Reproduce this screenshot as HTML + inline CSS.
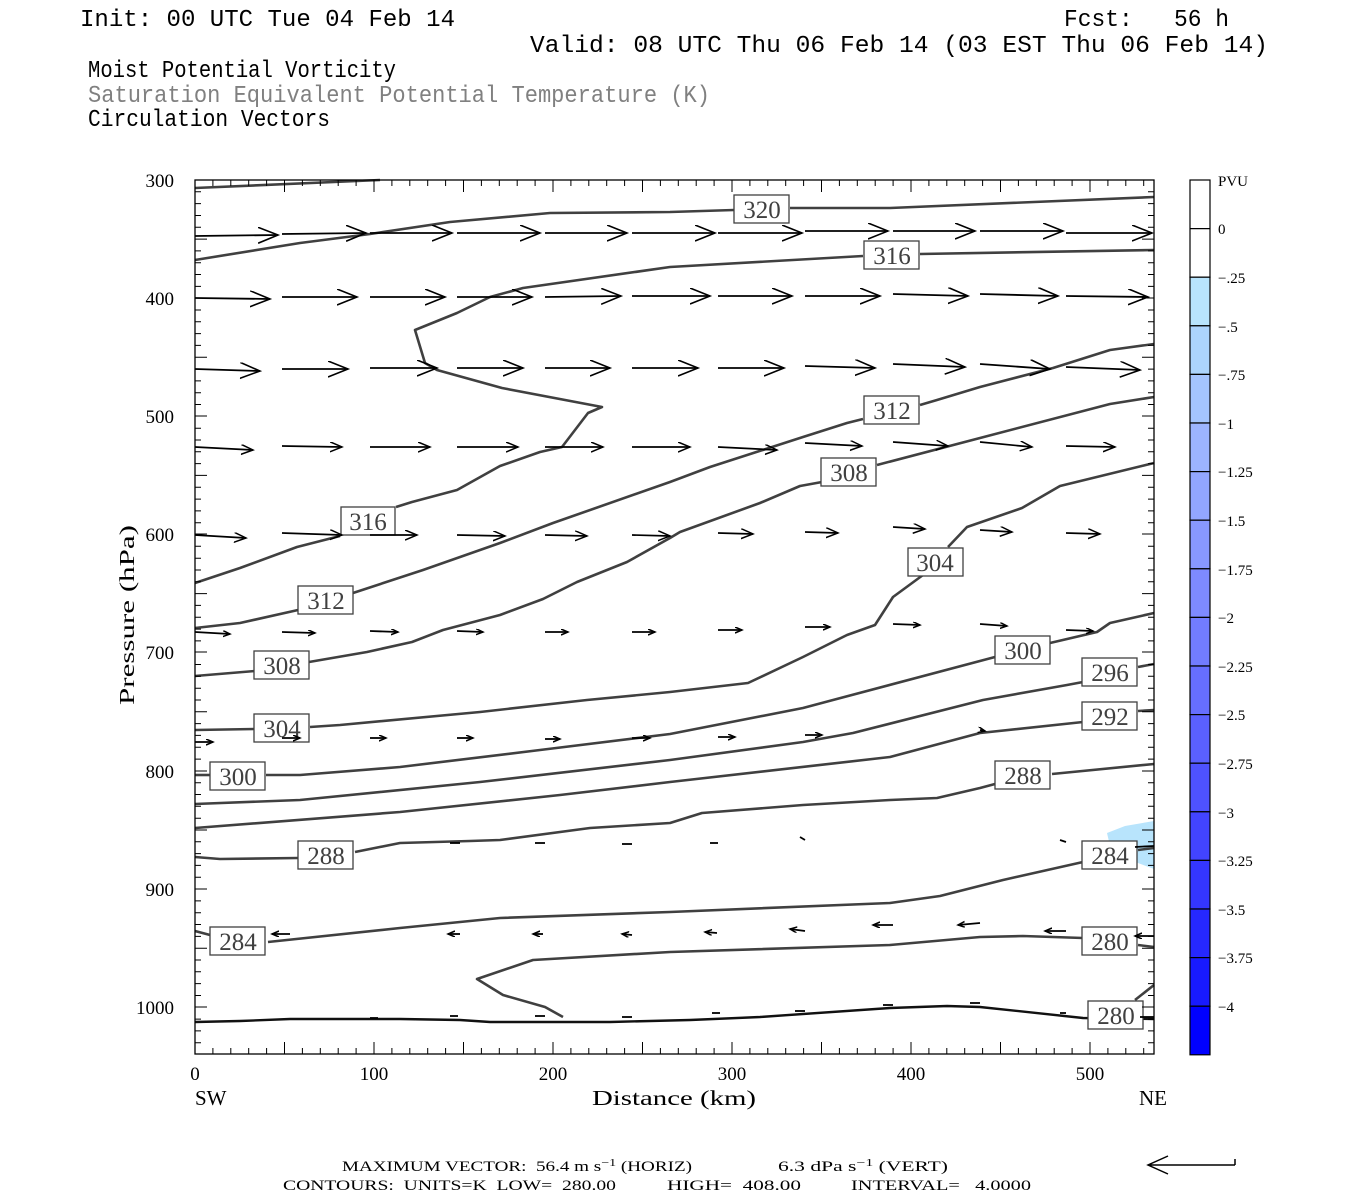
<!DOCTYPE html>
<html><head><meta charset="utf-8"><style>
html,body{margin:0;padding:0;background:#fff;}
svg{display:block;}
text{white-space:pre;}
</style></head><body>
<svg width="1350" height="1200" viewBox="0 0 1350 1200" xmlns="http://www.w3.org/2000/svg" xml:space="preserve">
<defs>
<marker id="hb" markerUnits="userSpaceOnUse" markerWidth="24" markerHeight="20" refX="20" refY="8" orient="auto"><path d="M0,0 L20,8 L0,16" fill="none" stroke="#000" stroke-width="1.6"/></marker>
<marker id="hm" markerUnits="userSpaceOnUse" markerWidth="16" markerHeight="12" refX="12" refY="5" orient="auto"><path d="M0,0 L12,5 L0,10" fill="none" stroke="#000" stroke-width="1.5"/></marker>
<marker id="hs" markerUnits="userSpaceOnUse" markerWidth="10" markerHeight="8" refX="7" refY="3" orient="auto"><path d="M0,0 L7,3 L0,6" fill="none" stroke="#000" stroke-width="1.5"/></marker>
</defs>
<rect width="1350" height="1200" fill="#fff"/>

<g font-family="Liberation Mono, monospace" font-size="24" fill="#000">
<text x="80" y="26" textLength="375" lengthAdjust="spacingAndGlyphs">Init: 00 UTC Tue 04 Feb 14</text>
<text x="1064" y="26" textLength="165" lengthAdjust="spacingAndGlyphs">Fcst:   56 h</text>
<text x="530" y="52" textLength="738" lengthAdjust="spacingAndGlyphs">Valid: 08 UTC Thu 06 Feb 14 (03 EST Thu 06 Feb 14)</text>
<text x="88" y="77" textLength="308" lengthAdjust="spacingAndGlyphs">Moist Potential Vorticity</text>
<text x="88" y="102" fill="#808080" textLength="622" lengthAdjust="spacingAndGlyphs">Saturation Equivalent Potential Temperature (K)</text>
<text x="88" y="126" textLength="242" lengthAdjust="spacingAndGlyphs">Circulation Vectors</text>
</g>

<polygon points="1107,833 1125,826 1154,821 1154,869 1138,863 1110,846" fill="#b8e4fc"/>

<g fill="none" stroke="#404040" stroke-width="2.6" stroke-linejoin="round">
<polyline points="195,188 380,180"/>
<polyline points="195,260 300,243 370,234 450,222 550,213 670,212 734,210"/>
<polyline points="790,208 890,208 1154,197"/>
<polyline points="1154,250 920,254"/>
<polyline points="863,256 670,267 523,288 490,297 457,313 415,330 425,363 437,370 502,388 602,407 588,413 562,447 540,452 500,466 457,490 412,502 396,507"/>
<polyline points="340,536 297,547 240,568 195,583"/>
<polyline points="195,628 240,623 298,610"/>
<polyline points="353,593 423,570 500,543 553,523 670,482 710,467 803,437 847,423 863,419"/>
<polyline points="920,405 937,400 980,387 1053,368 1110,350 1154,344"/>
<polyline points="195,676 255,671"/>
<polyline points="309,662 367,652 412,642 443,630 500,615 543,599 577,582 627,562 670,538 680,532 760,503 800,486 822,482"/>
<polyline points="877,465 980,438 1110,404 1154,397"/>
<polyline points="195,730 255,729"/>
<polyline points="310,727 340,725 480,712 587,700 670,692 748,683 803,657 847,635 875,625 893,597 923,575"/>
<polyline points="948,547 967,527 1022,508 1060,486 1154,463"/>
<polyline points="195,775 211,775"/>
<polyline points="266,775 300,775 400,767 540,750 670,734 803,708 833,700 995,657"/>
<polyline points="1050,643 1097,632 1110,623 1154,613"/>
<polyline points="195,804 300,800 480,782 670,760 803,742 853,733 983,700 1067,685 1083,682"/>
<polyline points="1138,667 1154,664"/>
<polyline points="195,828 400,812 560,795 670,782 890,757 980,733 1083,722"/>
<polyline points="1138,711 1154,710"/>
<polyline points="195,857 220,859 298,858"/>
<polyline points="355,852 400,843 470,841 500,840 590,828 670,823 702,813 803,805 890,800 937,798 980,788 995,784"/>
<polyline points="1052,774 1154,764"/>
<polyline points="195,931 210,935"/>
<polyline points="268,942 400,928 500,918 670,912 890,903 940,896 1003,880 1083,862"/>
<polyline points="1138,850 1154,848"/>
<polyline points="563,1017 545,1007 503,995 477,979 533,960 670,952 890,945 980,937 1023,936 1083,938"/>
<polyline points="1138,945 1154,947"/>
<polyline points="1135,1000 1154,985"/>
</g>
<polyline fill="none" stroke="#111" stroke-width="2.4" points="195,1022 240,1021 290,1019 400,1019 460,1020 490,1022 610,1022 690,1020 760,1017 890,1008 947,1006 980,1007 1083,1018 1154,1019"/>

<g font-family="Liberation Serif, serif" font-size="25" fill="#404040" stroke="none" text-anchor="middle">
<g fill="#fff" stroke="#404040" stroke-width="1.3">
<rect x="734" y="195" width="55" height="28"/>
<rect x="341" y="507" width="54" height="28"/>
<rect x="864" y="241" width="55" height="28"/>
<rect x="298" y="586" width="55" height="28"/>
<rect x="864" y="396" width="55" height="28"/>
<rect x="254" y="651" width="55" height="28"/>
<rect x="821" y="458" width="55" height="28"/>
<rect x="254" y="714" width="55" height="28"/>
<rect x="908" y="548" width="55" height="28"/>
<rect x="210" y="762" width="55" height="28"/>
<rect x="995" y="636" width="55" height="28"/>
<rect x="1082" y="658" width="55" height="28"/>
<rect x="1082" y="702" width="55" height="28"/>
<rect x="995" y="761" width="55" height="28"/>
<rect x="298" y="841" width="55" height="28"/>
<rect x="210" y="927" width="55" height="28"/>
<rect x="1082" y="841" width="55" height="28"/>
<rect x="1082" y="927" width="55" height="28"/>
<rect x="1088" y="1001" width="55" height="28"/>
</g>
<text x="762" y="218">320</text>
<text x="368" y="530">316</text>
<text x="892" y="264">316</text>
<text x="326" y="609">312</text>
<text x="892" y="419">312</text>
<text x="282" y="674">308</text>
<text x="849" y="481">308</text>
<text x="282" y="737">304</text>
<text x="935" y="571">304</text>
<text x="238" y="785">300</text>
<text x="1023" y="659">300</text>
<text x="1110" y="681">296</text>
<text x="1110" y="725">292</text>
<text x="1023" y="784">288</text>
<text x="326" y="864">288</text>
<text x="238" y="950">284</text>
<text x="1110" y="864">284</text>
<text x="1110" y="950">280</text>
<text x="1116" y="1024">280</text>
</g>

<g stroke="#000" stroke-width="1.8" fill="none">
<g marker-end="url(#hb)">
<line x1="195" y1="236" x2="278" y2="235"/><line x1="282" y1="234" x2="366" y2="233"/><line x1="370" y1="233" x2="452" y2="233"/><line x1="457" y1="233" x2="540" y2="233"/><line x1="545" y1="233" x2="627" y2="233"/><line x1="632" y1="233" x2="715" y2="233"/><line x1="718" y1="233" x2="802" y2="233"/><line x1="805" y1="231" x2="888" y2="231"/><line x1="893" y1="231" x2="975" y2="231"/><line x1="980" y1="231" x2="1063" y2="231"/><line x1="1066" y1="233" x2="1152" y2="233"/>
<line x1="195" y1="298" x2="270" y2="299"/><line x1="282" y1="297" x2="357" y2="297"/><line x1="370" y1="297" x2="445" y2="297"/><line x1="457" y1="297" x2="532" y2="297"/><line x1="545" y1="297" x2="621" y2="296"/><line x1="632" y1="296" x2="710" y2="296"/><line x1="718" y1="296" x2="792" y2="296"/><line x1="805" y1="296" x2="880" y2="296"/><line x1="893" y1="294" x2="968" y2="296"/><line x1="980" y1="294" x2="1058" y2="296"/><line x1="1066" y1="296" x2="1148" y2="297"/>
<line x1="195" y1="369" x2="260" y2="371"/><line x1="282" y1="369" x2="348" y2="369"/><line x1="370" y1="368" x2="437" y2="368"/><line x1="457" y1="368" x2="523" y2="368"/><line x1="545" y1="368" x2="610" y2="368"/><line x1="632" y1="368" x2="698" y2="368"/><line x1="718" y1="368" x2="784" y2="368"/><line x1="805" y1="366" x2="875" y2="368"/><line x1="893" y1="364" x2="965" y2="367"/><line x1="980" y1="364" x2="1050" y2="369"/><line x1="1066" y1="367" x2="1140" y2="370"/>
</g>
<g marker-end="url(#hm)" stroke-width="1.7">
<line x1="195" y1="447" x2="253" y2="450"/><line x1="282" y1="446" x2="342" y2="447"/><line x1="370" y1="447" x2="430" y2="447"/><line x1="457" y1="447" x2="518" y2="447"/><line x1="545" y1="447" x2="603" y2="447"/><line x1="632" y1="447" x2="690" y2="447"/><line x1="718" y1="447" x2="777" y2="450"/><line x1="805" y1="443" x2="862" y2="446"/><line x1="893" y1="442" x2="948" y2="446"/><line x1="980" y1="442" x2="1032" y2="447"/><line x1="1066" y1="446" x2="1115" y2="447"/>
<line x1="195" y1="535" x2="246" y2="538"/><line x1="282" y1="533" x2="342" y2="535"/><line x1="370" y1="535" x2="417" y2="535"/><line x1="457" y1="535" x2="505" y2="536"/><line x1="545" y1="535" x2="587" y2="536"/><line x1="632" y1="535" x2="670" y2="536"/><line x1="718" y1="533" x2="753" y2="534"/><line x1="805" y1="532" x2="838" y2="533"/><line x1="893" y1="527" x2="925" y2="529"/><line x1="980" y1="530" x2="1012" y2="532"/><line x1="1066" y1="533" x2="1100" y2="534"/>
</g>
<g marker-end="url(#hs)" stroke-width="1.8">
<line x1="195" y1="632" x2="230" y2="634"/><line x1="282" y1="632" x2="315" y2="633"/><line x1="370" y1="631" x2="398" y2="632"/><line x1="457" y1="631" x2="483" y2="632"/><line x1="545" y1="632" x2="568" y2="632"/><line x1="632" y1="632" x2="655" y2="632"/><line x1="718" y1="630" x2="742" y2="630"/><line x1="805" y1="627" x2="830" y2="627"/><line x1="893" y1="624" x2="920" y2="625"/><line x1="980" y1="624" x2="1007" y2="626"/><line x1="1066" y1="630" x2="1093" y2="631"/>
<line x1="195" y1="742" x2="213" y2="742"/><line x1="282" y1="738" x2="300" y2="738"/><line x1="370" y1="738" x2="386" y2="738"/><line x1="457" y1="738" x2="473" y2="738"/><line x1="545" y1="739" x2="560" y2="739"/><line x1="632" y1="738" x2="650" y2="738"/><line x1="718" y1="737" x2="735" y2="737"/><line x1="805" y1="735" x2="822" y2="735"/><line x1="980" y1="730" x2="985" y2="731"/>
<line x1="290" y1="934" x2="272" y2="934"/><line x1="460" y1="934" x2="448" y2="934"/><line x1="543" y1="934" x2="533" y2="934"/><line x1="632" y1="935" x2="622" y2="934"/><line x1="717" y1="933" x2="705" y2="932"/><line x1="805" y1="931" x2="790" y2="929"/><line x1="893" y1="925" x2="873" y2="925"/><line x1="980" y1="923" x2="958" y2="925"/><line x1="1066" y1="931" x2="1045" y2="931"/><line x1="1154" y1="936" x2="1135" y2="936"/>
</g>
<g stroke-width="1.8">
<line x1="535" y1="843" x2="545" y2="843"/><line x1="622" y1="844" x2="632" y2="844"/><line x1="710" y1="843" x2="718" y2="843"/><line x1="450" y1="843" x2="460" y2="843"/><line x1="800" y1="837" x2="805" y2="840"/><line x1="1060" y1="840" x2="1066" y2="842"/><line x1="1135" y1="847" x2="1154" y2="846"/>
<line x1="370" y1="1018" x2="378" y2="1018"/><line x1="450" y1="1016" x2="458" y2="1016"/><line x1="535" y1="1016" x2="545" y2="1016"/><line x1="622" y1="1017" x2="632" y2="1017"/><line x1="712" y1="1013" x2="720" y2="1013"/><line x1="795" y1="1011" x2="805" y2="1011"/><line x1="883" y1="1005" x2="893" y2="1005"/><line x1="970" y1="1003" x2="980" y2="1003"/><line x1="1060" y1="1013" x2="1066" y2="1013"/><line x1="1140" y1="1017" x2="1154" y2="1017"/>
</g>
</g>

<rect x="195" y="180" width="959" height="874" fill="none" stroke="#000" stroke-width="1.3"/>
<g stroke="#000" stroke-width="1">
<path d="M195,191.8h6M195,203.6h6M195,215.5h6M195,227.3h6M195,239.1h12M195,250.9h6M195,262.7h6M195,274.5h6M195,286.4h6M195,310h6M195,321.8h6M195,333.6h6M195,345.4h6M195,357.3h12M195,369.1h6M195,380.9h6M195,392.7h6M195,404.5h6M195,428.2h6M195,440h6M195,451.8h6M195,463.6h6M195,475.4h12M195,487.3h6M195,499.1h6M195,510.9h6M195,522.7h6M195,546.3h6M195,558.2h6M195,570h6M195,581.8h6M195,593.6h12M195,605.4h6M195,617.3h6M195,629.1h6M195,640.9h6M195,664.5h6M195,676.3h6M195,688.2h6M195,700h6M195,711.8h12M195,723.6h6M195,735.4h6M195,747.3h6M195,759.1h6M195,782.7h6M195,794.5h6M195,806.3h6M195,818.2h6M195,830h12M195,841.8h6M195,853.6h6M195,865.4h6M195,877.3h6M195,900.9h6M195,912.7h6M195,924.5h6M195,936.4h6M195,948.2h12M195,960h6M195,971.8h6M195,983.6h6M195,995.5h6M195,1019.1h6M195,1030.9h6M195,1042.7h6M195,298h12M195,416h12M195,534h12M195,652h12M195,771h12M195,889h12M195,1007h12"/>
<path d="M1154,191.8h-6M1154,203.6h-6M1154,215.5h-6M1154,227.3h-6M1154,239.1h-12M1154,250.9h-6M1154,262.7h-6M1154,274.5h-6M1154,286.4h-6M1154,310h-6M1154,321.8h-6M1154,333.6h-6M1154,345.4h-6M1154,357.3h-12M1154,369.1h-6M1154,380.9h-6M1154,392.7h-6M1154,404.5h-6M1154,428.2h-6M1154,440h-6M1154,451.8h-6M1154,463.6h-6M1154,475.4h-12M1154,487.3h-6M1154,499.1h-6M1154,510.9h-6M1154,522.7h-6M1154,546.3h-6M1154,558.2h-6M1154,570h-6M1154,581.8h-6M1154,593.6h-12M1154,605.4h-6M1154,617.3h-6M1154,629.1h-6M1154,640.9h-6M1154,664.5h-6M1154,676.3h-6M1154,688.2h-6M1154,700h-6M1154,711.8h-12M1154,723.6h-6M1154,735.4h-6M1154,747.3h-6M1154,759.1h-6M1154,782.7h-6M1154,794.5h-6M1154,806.3h-6M1154,818.2h-6M1154,830h-12M1154,841.8h-6M1154,853.6h-6M1154,865.4h-6M1154,877.3h-6M1154,900.9h-6M1154,912.7h-6M1154,924.5h-6M1154,936.4h-6M1154,948.2h-12M1154,960h-6M1154,971.8h-6M1154,983.6h-6M1154,995.5h-6M1154,1019.1h-6M1154,1030.9h-6M1154,1042.7h-6M1154,298h-12M1154,416h-12M1154,534h-12M1154,652h-12M1154,771h-12M1154,889h-12M1154,1007h-12"/>
<path d="M212.9,180v6M230.8,180v6M248.7,180v6M266.6,180v6M284.5,180v12M302.4,180v6M320.3,180v6M338.2,180v6M356.1,180v6M374,180v12M391.9,180v6M409.8,180v6M427.7,180v6M445.6,180v6M463.5,180v12M481.4,180v6M499.3,180v6M517.2,180v6M535.1,180v6M553,180v12M570.9,180v6M588.8,180v6M606.7,180v6M624.6,180v6M642.5,180v12M660.4,180v6M678.3,180v6M696.2,180v6M714.1,180v6M732,180v12M749.9,180v6M767.8,180v6M785.7,180v6M803.6,180v6M821.5,180v12M839.4,180v6M857.3,180v6M875.2,180v6M893.1,180v6M911,180v12M928.9,180v6M946.8,180v6M964.7,180v6M982.6,180v6M1000.5,180v12M1018.4,180v6M1036.3,180v6M1054.2,180v6M1072.1,180v6M1090,180v12M1107.9,180v6M1125.8,180v6M1143.7,180v6"/>
<path d="M212.9,1054v-6M230.8,1054v-6M248.7,1054v-6M266.6,1054v-6M284.5,1054v-12M302.4,1054v-6M320.3,1054v-6M338.2,1054v-6M356.1,1054v-6M374,1054v-12M391.9,1054v-6M409.8,1054v-6M427.7,1054v-6M445.6,1054v-6M463.5,1054v-12M481.4,1054v-6M499.3,1054v-6M517.2,1054v-6M535.1,1054v-6M553,1054v-12M570.9,1054v-6M588.8,1054v-6M606.7,1054v-6M624.6,1054v-6M642.5,1054v-12M660.4,1054v-6M678.3,1054v-6M696.2,1054v-6M714.1,1054v-6M732,1054v-12M749.9,1054v-6M767.8,1054v-6M785.7,1054v-6M803.6,1054v-6M821.5,1054v-12M839.4,1054v-6M857.3,1054v-6M875.2,1054v-6M893.1,1054v-6M911,1054v-12M928.9,1054v-6M946.8,1054v-6M964.7,1054v-6M982.6,1054v-6M1000.5,1054v-12M1018.4,1054v-6M1036.3,1054v-6M1054.2,1054v-6M1072.1,1054v-6M1090,1054v-12M1107.9,1054v-6M1125.8,1054v-6M1143.7,1054v-6"/>
</g>

<g font-family="Liberation Serif, serif" font-size="19" fill="#000">
<g text-anchor="end">
<text x="174" y="187">300</text><text x="174" y="305">400</text><text x="174" y="423">500</text><text x="174" y="541">600</text><text x="174" y="659">700</text><text x="174" y="778">800</text><text x="174" y="896">900</text><text x="174" y="1014">1000</text>
</g>
<g text-anchor="middle">
<text x="195" y="1080">0</text><text x="374" y="1080">100</text><text x="553" y="1080">200</text><text x="732" y="1080">300</text><text x="911" y="1080">400</text><text x="1090" y="1080">500</text>
</g>
<text x="195" y="1105" font-size="21">SW</text>
<text x="674" y="1105" font-size="21" text-anchor="middle" textLength="164" lengthAdjust="spacingAndGlyphs">Distance (km)</text>
<text x="1139" y="1105" font-size="21">NE</text>
<text transform="translate(134,615) rotate(-90)" font-size="21" text-anchor="middle" textLength="180" lengthAdjust="spacingAndGlyphs">Pressure (hPa)</text>
</g>

<g stroke="#000" stroke-width="1.2">
<rect x="1190" y="180" width="20" height="97.2" fill="#fff"/>
<rect x="1190" y="277.2" width="20" height="48.6" fill="#b8e4fc"/>
<rect x="1190" y="325.8" width="20" height="48.6" fill="#acd4fc"/>
<rect x="1190" y="374.4" width="20" height="48.6" fill="#a4c4fe"/>
<rect x="1190" y="423" width="20" height="48.6" fill="#9cb4ff"/>
<rect x="1190" y="471.6" width="20" height="48.6" fill="#92a6ff"/>
<rect x="1190" y="520.2" width="20" height="48.6" fill="#8898ff"/>
<rect x="1190" y="568.8" width="20" height="48.6" fill="#7e8aff"/>
<rect x="1190" y="617.4" width="20" height="48.6" fill="#727cff"/>
<rect x="1190" y="666" width="20" height="48.6" fill="#666eff"/>
<rect x="1190" y="714.6" width="20" height="48.6" fill="#5a60ff"/>
<rect x="1190" y="763.2" width="20" height="48.6" fill="#4e52ff"/>
<rect x="1190" y="811.8" width="20" height="48.6" fill="#4244ff"/>
<rect x="1190" y="860.4" width="20" height="48.6" fill="#3436ff"/>
<rect x="1190" y="909" width="20" height="48.6" fill="#2628ff"/>
<rect x="1190" y="957.6" width="20" height="48.6" fill="#181aff"/>
<rect x="1190" y="1006.2" width="20" height="48.6" fill="#0000ff"/>
<line x1="1190" y1="228.6" x2="1210" y2="228.6"/>
</g>
<g font-family="Liberation Serif, serif" font-size="15" fill="#000">
<text x="1218" y="186">PVU</text>
<text x="1218" y="234">0</text>
<text x="1218" y="283">−.25</text>
<text x="1218" y="332">−.5</text>
<text x="1218" y="380">−.75</text>
<text x="1218" y="429">−1</text>
<text x="1218" y="477">−1.25</text>
<text x="1218" y="526">−1.5</text>
<text x="1218" y="575">−1.75</text>
<text x="1218" y="623">−2</text>
<text x="1218" y="672">−2.25</text>
<text x="1218" y="720">−2.5</text>
<text x="1218" y="769">−2.75</text>
<text x="1218" y="818">−3</text>
<text x="1218" y="866">−3.25</text>
<text x="1218" y="915">−3.5</text>
<text x="1218" y="963">−3.75</text>
<text x="1218" y="1012">−4</text>
</g>

<g font-family="Liberation Serif, serif" font-size="15" fill="#000">
<text x="342" y="1171" textLength="350" lengthAdjust="spacingAndGlyphs">MAXIMUM VECTOR:  56.4 m s<tspan dy="-5" font-size="11">−1</tspan><tspan dy="5"> (HORIZ)</tspan></text>
<text x="778" y="1171" textLength="170" lengthAdjust="spacingAndGlyphs">6.3 dPa s<tspan dy="-5" font-size="11">−1</tspan><tspan dy="5"> (VERT)</tspan></text>
<text x="283" y="1190" textLength="333" lengthAdjust="spacingAndGlyphs">CONTOURS:  UNITS=K  LOW=  280.00</text>
<text x="667" y="1190" textLength="134" lengthAdjust="spacingAndGlyphs">HIGH=  408.00</text>
<text x="851" y="1190" textLength="180" lengthAdjust="spacingAndGlyphs">INTERVAL=   4.0000</text>
</g>
<g stroke="#000" stroke-width="1.5" fill="none">
<path d="M1235,1165 H1148 M1168,1156 L1148,1165 L1168,1174 M1235,1165 V1159"/>
</g>
</svg>
</body></html>
